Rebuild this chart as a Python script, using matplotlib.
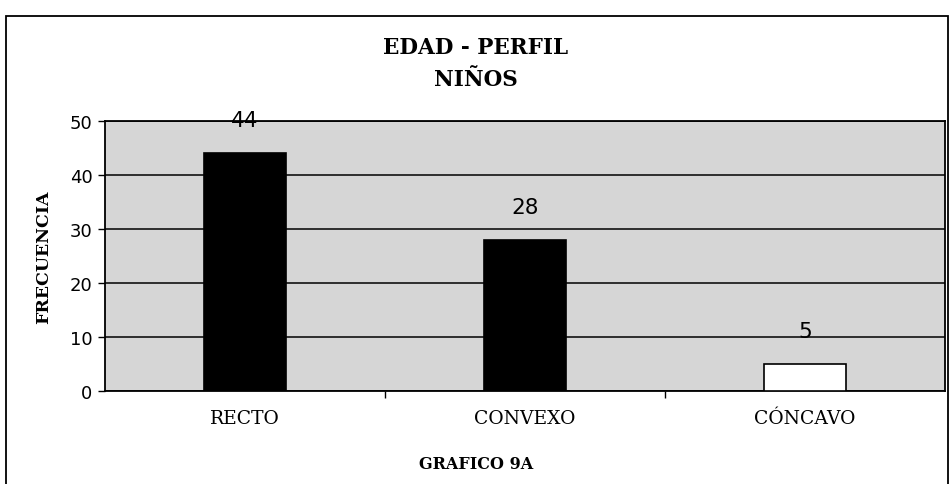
import matplotlib.pyplot as plt
from matplotlib.patches import Rectangle

categorias = ['RECTO', 'CONVEXO', 'CÓNCAVO']
frecuencia = [44, 28, 5]
colores = ['black', 'black', 'white']
yticks = [0, 10, 20, 30, 40, 50]

serif = ['DejaVu Serif']
sans = ['DejaVu Sans']

fig = plt.figure(figsize=(9.52, 4.85), dpi=100)
ax = fig.add_axes([105 / 952, 1 - 392 / 485, 840 / 952, 270 / 485])

# marco exterior del grafico
fig.patches.append(Rectangle((6 / 952, -0.01), 942 / 952, 1 - 17 / 485 + 0.01,
                             transform=fig.transFigure, fill=False,
                             edgecolor='black', lw=1.3))

ax.set_facecolor('#d6d6d6')
x = list(range(len(categorias)))
ax.bar(x, frecuencia, width=0.29, color=colores, edgecolor='black', lw=1.2, zorder=3)
for xi, v in zip(x, frecuencia):
    ax.text(xi, v + 4.3, str(v), ha='center', va='bottom', fontsize=15.5,
            family=sans, zorder=4)

ax.set_xlim(-0.5, 2.5)
ax.set_ylim(0, 50)
ax.set_yticks(yticks)
ax.set_yticklabels([str(t) for t in yticks], fontsize=13, family=sans)
ax.yaxis.grid(True, color='black', lw=1.1)
ax.set_axisbelow(True)
ax.set_xticks([0.5, 1.5])
ax.set_xticklabels(['', ''])
ax.tick_params(axis='x', length=5, width=1, direction='out')
ax.tick_params(axis='y', length=5, width=1, pad=4)
for xi, c in zip(x, categorias):
    ax.text(xi, -3.4, c, ha='center', va='top', fontsize=13.5, family=serif)
for s in ax.spines.values():
    s.set_linewidth(1.3)
    s.set_color('black')

ax.set_ylabel('FRECUENCIA', fontsize=12.5, fontweight='bold', family=serif, labelpad=13)

fig.text(0.5, 1 - 48 / 485, 'EDAD - PERFIL', ha='center', va='center',
         fontsize=15.5, fontweight='bold', family=serif)
fig.text(0.5, 1 - 80 / 485, 'NIÑOS', ha='center', va='center',
         fontsize=15.5, fontweight='bold', family=serif)
fig.text(0.5, 1 - 465 / 485, 'GRAFICO 9A', ha='center', va='center',
         fontsize=11.5, fontweight='bold', family=serif)

fig.savefig('out.png', dpi=100)
